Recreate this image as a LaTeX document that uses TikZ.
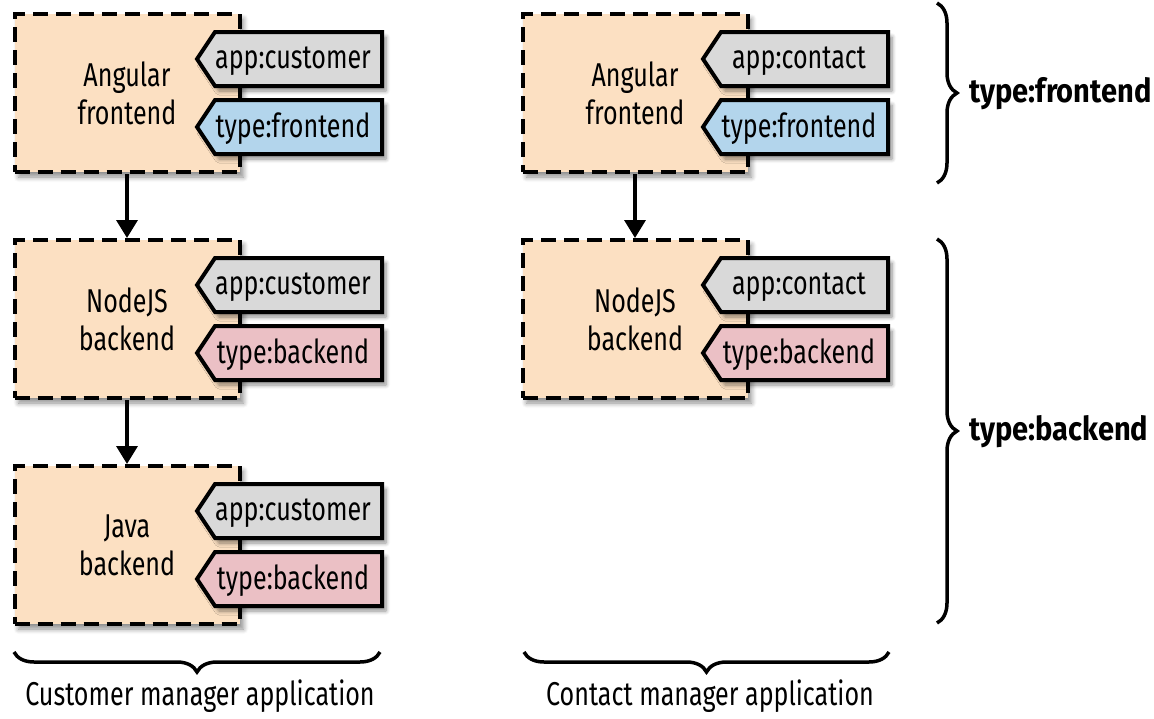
\documentclass[tikz,border=0pt]{standalone}
\usepackage{fontspec}
\setmainfont[FakeStretch=0.76,BoldFeatures={FakeStretch=0.88}]{Fira Sans}
\usetikzlibrary{arrows.meta,decorations.pathreplacing,shadows.blur}
\definecolor{peach}{HTML}{FCE0C2}
\definecolor{tgray}{HTML}{D9D9D9}
\definecolor{tblue}{HTML}{B3D5EC}
\definecolor{tpink}{HTML}{EBC0C5}
\newcommand\apptag[5]{%
  \draw[tagline, fill=#4] (#2-185,#3) -- (#2-167,#3-27) -- (#2,#3-27) -- (#2,#3+27) -- (#2-167,#3+27) -- cycle;
  \node[tagtext] (#1) at (#2-89,#3+2) {#5};}
\begin{document}
\begin{tikzpicture}[x=1pt,y=-1pt,
  svc/.style={draw=black, line width=4pt, dash pattern=on 15pt off 8pt, fill=peach,
    minimum width=225pt, minimum height=158pt, inner sep=0pt, align=center,
    font=\fontsize{33}{38}\selectfont,
    blur shadow={shadow xshift=4pt, shadow yshift=-5pt, shadow blur steps=6, shadow blur radius=5pt, shadow opacity=45}},
  tagline/.style={draw=black, line width=4pt, line join=miter,
    blur shadow={shadow xshift=4pt, shadow yshift=-5pt, shadow blur steps=6, shadow blur radius=4pt, shadow opacity=45}},
  tagtext/.style={inner sep=0pt, font=\fontsize{33}{38}\selectfont},
  conn/.style={draw=black, line width=3.5pt, -{Triangle[width=21pt,length=18pt]}},
  brc/.style={draw=black, line width=3.5pt, decorate, decoration={brace, amplitude=20pt}},
  lbl/.style={inner sep=0pt, font=\fontsize{33}{38}\selectfont},
  blbl/.style={inner sep=0pt, anchor=west, font=\fontsize{33}{38}\selectfont\bfseries}
]
\useasboundingbox (0,0) rectangle (1154,718);

% left column
\node[svc] (af1) at (127,93) {Angular\\frontend};
\apptag{af1a}{382}{59}{tgray}{app:customer}
\apptag{af1t}{382}{127}{tblue}{type:frontend}

\node[svc] (nb1) at (127,319) {NodeJS\\backend};
\apptag{nb1a}{382}{285}{tgray}{app:customer}
\apptag{nb1t}{382}{353}{tpink}{type:backend}

\node[svc] (jb1) at (127,545) {Java\\backend};
\apptag{jb1a}{382}{511}{tgray}{app:customer}
\apptag{jb1t}{382}{579}{tpink}{type:backend}

\draw[conn] (af1) -- (nb1);
\draw[conn] (nb1) -- (jb1);

% right column
\node[svc] (af2) at (635,93) {Angular\\frontend};
\apptag{af2a}{888}{59}{tgray}{app:contact}
\apptag{af2t}{888}{127}{tblue}{type:frontend}

\node[svc] (nb2) at (635,319) {NodeJS\\backend};
\apptag{nb2a}{888}{285}{tgray}{app:contact}
\apptag{nb2t}{888}{353}{tpink}{type:backend}

\draw[conn] (af2) -- (nb2);

% braces
\coordinate (fa) at (937,3);
\coordinate (fb) at (937,183);
\coordinate (ba) at (937,239);
\coordinate (bb) at (937,623);
\coordinate (ca) at (380,652);
\coordinate (cb) at (14,652);
\coordinate (ka) at (889,652);
\coordinate (kb) at (524,652);
\draw[brc] (fa) -- (fb);
\draw[brc] (ba) -- (bb);
\draw[brc] (ca) -- (cb);
\draw[brc] (ka) -- (kb);

\node[blbl] (lfront) at (969,94) {type:frontend};
\node[blbl] (lback) at (969,432) {type:backend};
\node[lbl] (lcust) at (200,696) {Customer manager application};
\node[lbl] (lcont) at (710,696) {Contact manager application};
\end{tikzpicture}
\end{document}
